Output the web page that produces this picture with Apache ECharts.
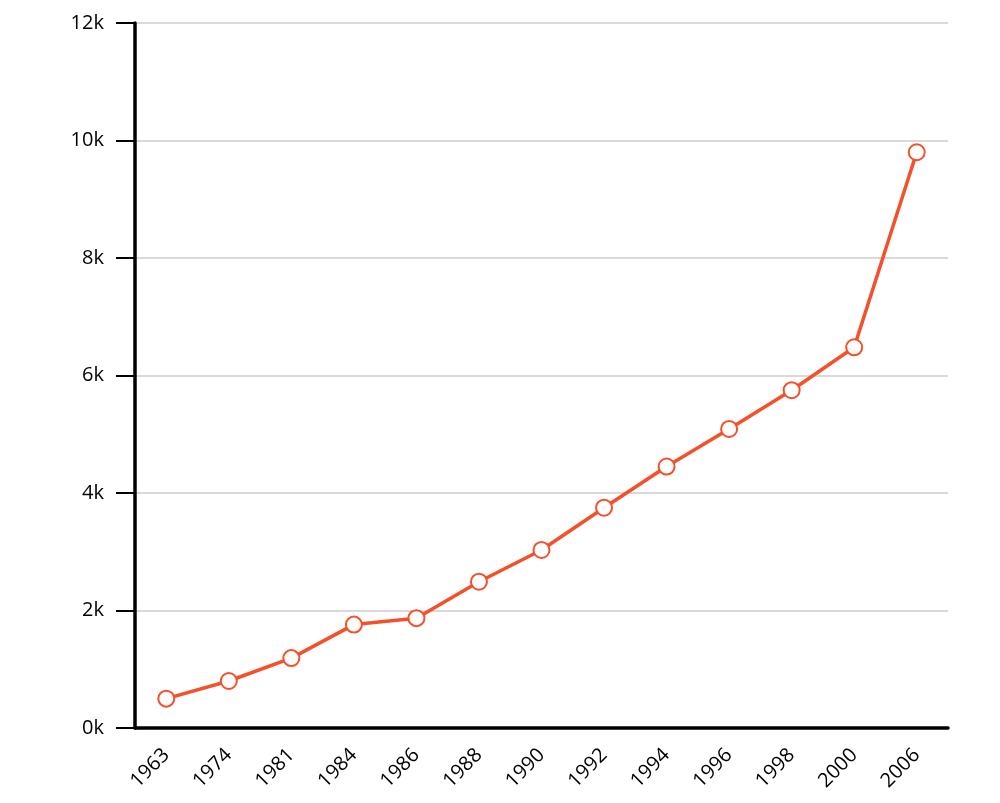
<!DOCTYPE html>
<html><head><meta charset="utf-8">
<script src="https://cdn.jsdelivr.net/npm/echarts@6/dist/echarts.min.js"></script>
<style>html,body{margin:0;padding:0;background:#fff}#c{width:1000px;height:803px}</style>
</head><body><div id="c"></div>
<script>
const categories = ['1963','1974','1981','1984','1986','1988','1990','1992','1994','1996','1998','2000','2006'];
const values = [500, 800, 1190, 1760, 1870, 2490, 3030, 3750, 4450, 5090, 5750, 6480, 9800];
const yTicks = [0, 2000, 4000, 6000, 8000, 10000, 12000];

const chart = echarts.init(document.getElementById('c'));
chart.setOption({
  animation: false,
  grid: {left: 135, right: 52, top: 23, bottom: 75},
  xAxis: {
    type: 'category', data: categories, boundaryGap: true,
    axisLine: {lineStyle: {color: '#000', width: 3.5}},
    axisTick: {length: 19, lineStyle: {color: '#000', width: 2}},
    axisLabel: {rotate: 45, margin: 24, color: '#000', fontSize: 20, fontFamily: 'Open Sans'}
  },
  yAxis: {
    type: 'value', min: yTicks[0], max: yTicks[yTicks.length-1], interval: 2000,
    axisLine: {show: true, lineStyle: {color: '#000', width: 3.5}},
    axisTick: {show: true, length: 19, lineStyle: {color: '#000', width: 2}},
    axisLabel: {margin: 31, color: '#000', fontSize: 20, fontFamily: 'Open Sans',
      formatter: v => (v/1000) + 'k'},
    splitLine: {lineStyle: {color: '#cccccc', width: 1.5}}
  },
  series: [{
    type: 'line', data: values,
    symbol: 'emptyCircle', symbolSize: 16,
    lineStyle: {color: '#F4502A', width: 3.5},
    itemStyle: {color: '#F4502A', borderWidth: 3.5, borderColor: '#F4502A'}
  }]
});
</script></body></html>
